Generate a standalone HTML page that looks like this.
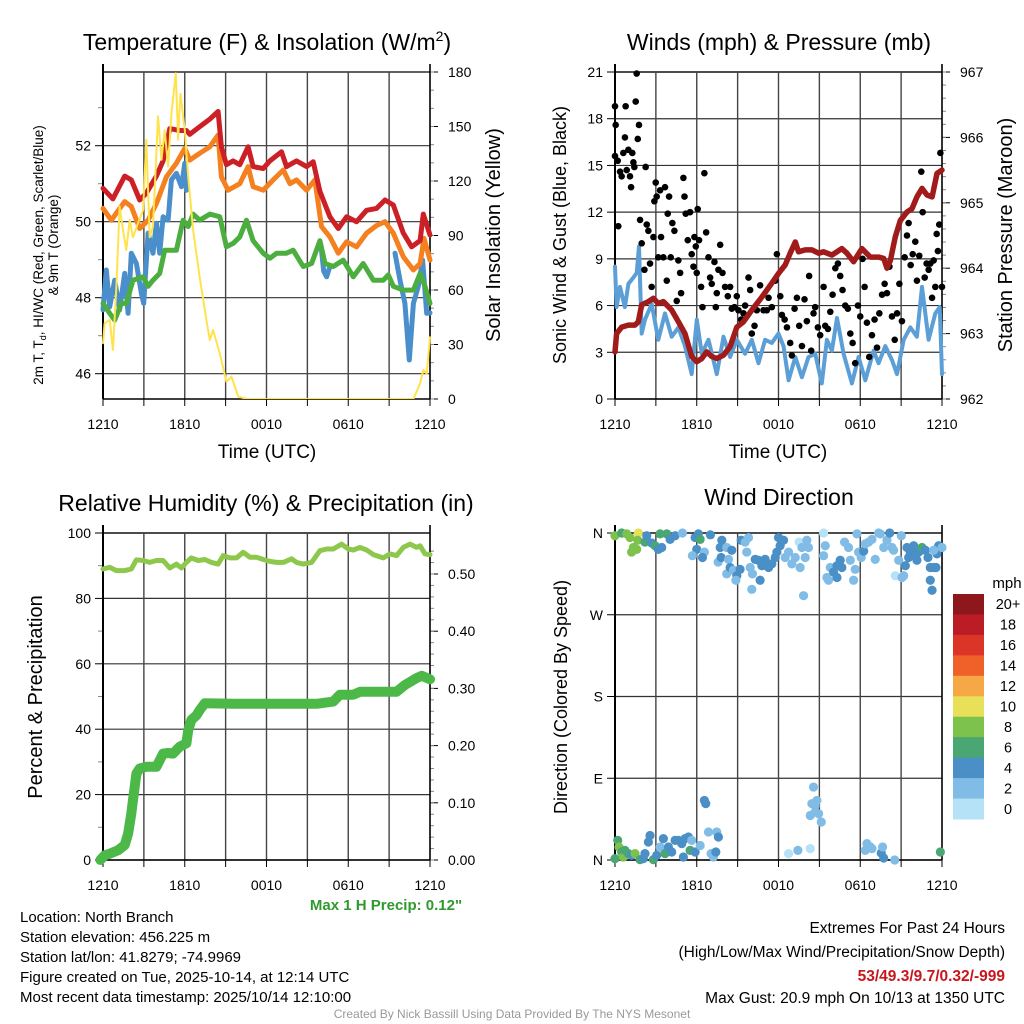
<!DOCTYPE html>
<html><head><meta charset="utf-8"><style>
html,body{margin:0;padding:0;background:#fff;}
svg{display:block;font-family:"Liberation Sans",Arial,sans-serif;}
</style></head><body>
<svg id="fig" width="1024" height="1024" viewBox="0 0 1024 1024" xmlns="http://www.w3.org/2000/svg">
<rect width="1024" height="1024" fill="#fff"/>
<text x="267" y="50" font-size="23" text-anchor="middle">Temperature (F) &amp; Insolation (W/m<tspan font-size="14" dy="-9">2</tspan><tspan dy="9">)</tspan></text>
<text x="779" y="50" font-size="23" text-anchor="middle">Winds (mph) &amp; Pressure (mb)</text>
<text x="266" y="511" font-size="23" text-anchor="middle">Relative Humidity (%) &amp; Precipitation (in)</text>
<text x="779" y="505" font-size="23" text-anchor="middle">Wind Direction</text>
<text x="267" y="458" font-size="19" text-anchor="middle">Time (UTC)</text>
<text x="778" y="458" font-size="19" text-anchor="middle">Time (UTC)</text>
<text transform="translate(43,255) rotate(-90)" font-size="13.5" text-anchor="middle">2m T, T<tspan font-size="9" dy="3">d</tspan><tspan dy="-3">, HI/WC (Red, Green, Scarlet/Blue)</tspan></text>
<text transform="translate(58,245) rotate(-90)" font-size="13.5" text-anchor="middle">&amp; 9m T (Orange)</text>
<text transform="translate(500,235) rotate(-90)" font-size="20" text-anchor="middle">Solar Insolation (Yellow)</text>
<text transform="translate(566,235) rotate(-90)" font-size="18" text-anchor="middle">Sonic Wind &amp; Gust (Blue, Black)</text>
<text transform="translate(1012,235) rotate(-90)" font-size="20" text-anchor="middle">Station Pressure (Maroon)</text>
<text transform="translate(42,697) rotate(-90)" font-size="20" text-anchor="middle">Percent &amp; Precipitation</text>
<text transform="translate(567,697) rotate(-90)" font-size="18" text-anchor="middle">Direction (Colored By Speed)</text>
<text x="386" y="910" font-size="15" font-weight="bold" fill="#2e9a2e" text-anchor="middle">Max 1 H Precip: 0.12"</text>
<g font-size="15">
<text x="20" y="922">Location: North Branch</text>
<text x="20" y="942">Station elevation: 456.225 m</text>
<text x="20" y="962">Station lat/lon: 41.8279; -74.9969</text>
<text x="20" y="982">Figure created on Tue, 2025-10-14, at 12:14 UTC</text>
<text x="20" y="1002">Most recent data timestamp: 2025/10/14 12:10:00</text>
</g>
<g font-size="15.5" text-anchor="end">
<text x="1005" y="933">Extremes For Past 24 Hours</text>
<text x="1005" y="957">(High/Low/Max Wind/Precipitation/Snow Depth)</text>
<text x="1005" y="981" fill="#c8161d" font-weight="bold">53/49.3/9.7/0.32/-999</text>
<text x="1005" y="1003">Max Gust: 20.9 mph On 10/13 at 1350 UTC</text>
</g>
<text x="512" y="1018" font-size="12" fill="#999" text-anchor="middle">Created By Nick Bassill Using Data Provided By The NYS Mesonet</text>
<text x="1007" y="588" font-size="15" text-anchor="middle">mph</text>
<g id="layer"></g>
</svg>
<script>
// ---------- Panel 1 data ----------
const redH=[0,0.73,1.59,2.08,2.69,3.18,3.92,4.41,4.9,5.63,6.12,6.37,7.1,7.84,8.45,8.69,9.06,9.55,10.04,10.65,11.02,11.76,12.25,13.1,13.47,14.2,14.94,15.43,15.92,16.65,17.27,17.88,18.61,19.35,20.08,20.7,21.31,22.04,22.65,23.27,23.51,24];
const redV=[50.88,50.6,51.2,51.1,50.57,50.75,51.2,51.6,52.45,52.4,52.4,52.3,52.5,52.7,52.9,51.97,51.5,51.6,51.5,51.97,51.45,51.4,51.6,51.84,51.45,51.6,51.45,51.58,50.8,50.13,49.82,50.13,50.0,50.3,50.35,50.57,50.44,49.7,49.34,49.5,50.2,49.65];
const orangeH=[0,0.61,1.59,2.08,2.69,3.31,3.92,4.65,5.39,6.0,6.37,7.1,7.84,8.45,8.69,9.18,10.04,10.65,11.02,11.76,12.49,13.23,13.72,14.2,14.94,15.55,16.04,16.65,17.27,17.88,18.61,19.35,20.08,20.7,21.31,22.04,22.78,23.27,23.56,24];
const orangeV=[50.35,50.04,50.53,50.4,49.82,50.04,50.48,51.18,51.54,51.93,51.62,51.8,51.97,52.28,51.18,50.83,51.0,51.45,50.92,50.83,51.1,51.36,51.0,51.1,50.83,51.1,49.87,49.6,49.17,49.47,49.34,49.7,49.9,50.0,49.7,49.08,48.73,48.9,49.56,48.99];
const greenH=[0,0.49,0.86,1.35,1.71,2.2,2.94,3.31,3.67,4.16,4.53,4.9,5.39,5.88,6.25,6.61,7.1,7.84,8.57,9.06,9.55,10.04,10.53,11.02,11.76,12.25,12.74,13.47,13.96,14.69,15.31,15.92,16.29,16.9,17.63,18.37,19.1,19.84,20.57,20.94,21.31,22.04,22.78,23.27,23.63,24];
const greenV=[47.85,47.59,47.41,47.85,47.85,48.46,48.55,48.3,48.46,48.64,49.25,49.25,49.25,50.04,49.87,50.2,50.04,50.2,50.13,49.34,49.43,49.6,50.04,49.5,49.17,49.04,49.17,49.17,49.25,48.82,48.9,49.5,48.9,48.82,48.99,48.55,48.9,48.46,48.46,48.6,48.3,48.2,48.2,48.64,48.3,47.85];
// blue (HI/WC) only visible where it departs from dewpoint; null = gap
const blueH=[0,0.24,0.49,0.86,1.22,1.59,1.84,2.08,2.45,2.82,2.99,3.31,3.67,3.92,4.16,4.41,4.78,5.02,5.39,5.76,6.0,6.12,6.2,16.04,16.2,16.41,16.65,16.8,21.43,21.8,22.16,22.48,22.78,23.14,23.46,23.76,24];
const blueV=[47.68,48.73,47.76,48.46,47.68,48.64,47.59,49.17,48.9,48.11,47.85,49.7,49.17,49.96,49.17,50.13,50.04,51.1,51.27,50.92,51.54,50.83,null,49.25,48.7,48.55,48.82,null,49.17,48.46,47.85,46.36,47.85,48.3,48.99,47.59,47.6];
const solarH=[0,0.12,0.49,0.73,0.98,1.22,1.47,1.71,1.96,2.2,2.57,2.94,3.18,3.43,3.67,4.04,4.29,4.53,4.78,5.02,5.34,5.51,5.68,6.0,6.25,6.61,7.1,7.59,7.84,8.08,8.57,9.06,9.43,9.92,10.53,22.78,23.27,23.51,23.76,24];
const solarV=[30.7,41.7,43.5,27,62,106,93,82,98.6,89,96.8,104,142.7,89,95,155.6,131.7,148,128,157,179.4,142.7,168,148,122.5,93,67,43.5,32.5,38,25,9.5,12.3,1.3,0,0,8.6,16,14,34];
const tempTicks=[46,48,50,52];
const solarTicks=[0,30,60,90,120,150,180];
const timeTickLabels=["1210","1810","0010","0610","1210"];
// ---------- Panel 2 data ----------
const presH=[0,0.12,0.49,0.98,1.47,1.71,1.96,2.45,2.82,3.18,3.55,4.16,4.65,5.14,5.63,6.0,6.37,6.73,7.1,7.47,7.96,8.45,8.94,9.43,10.04,10.78,11.51,12.0,12.49,12.86,13.23,13.47,13.96,14.45,14.94,15.31,15.92,16.65,17.02,17.51,18.12,18.74,19.35,19.72,19.96,20.21,20.57,20.94,21.43,21.8,22.16,22.53,22.9,23.27,23.63,24];
const presV=[962.72,963.0,963.1,963.13,963.13,963.18,963.44,963.49,963.54,963.46,963.49,963.36,963.18,963.0,962.65,962.57,962.62,962.72,962.65,962.62,962.67,962.8,963.1,963.18,963.36,963.56,963.77,963.92,964.05,964.23,964.4,964.25,964.28,964.28,964.23,964.25,964.2,964.3,964.23,964.1,964.3,964.17,964.17,964.15,964.0,964.12,964.48,964.73,964.86,964.91,965.09,965.22,965.12,965.09,965.45,965.5];
const windH=[0,0.12,0.37,0.73,0.98,1.35,1.59,1.76,1.96,2.2,2.69,3.18,3.67,4.16,4.65,5.14,5.63,6.0,6.37,6.86,7.47,7.96,8.45,8.94,9.55,10.04,10.53,11.02,11.51,12.0,12.37,12.74,13.23,13.72,14.2,14.69,15.18,15.55,15.92,16.29,16.78,17.39,17.88,18.37,18.98,19.35,19.84,20.33,20.7,21.19,21.67,22.16,22.53,23.02,23.51,23.83,24];
const windV=[8.5,5.9,7.2,5.9,7.4,7.8,8.1,9.8,4.2,5.1,6.1,3.8,5.5,4.0,4.6,3.4,1.6,5.1,2.9,3.8,1.6,4.0,2.7,3.8,2.9,3.8,2.3,3.8,3.6,4.2,3.4,1.2,2.7,1.4,2.7,2.9,1.0,3.8,3.1,5.2,2.9,1.0,2.7,1.2,3.1,2.3,3.4,2.5,1.6,3.8,4.6,4.0,7.2,3.8,5.5,5.9,1.6];
const gustH=[0,0.05,0,0.2,0.24,0.37,0.49,0.61,0.73,0.78,0.86,0.98,1.1,1.18,1.27,1.35,1.42,1.52,1.59,1.67,1.76,1.84,1.96,2.16,2.25,2.33,2.45,2.57,2.69,2.82,2.89,2.99,3.06,3.18,3.31,3.38,3.55,3.67,3.8,3.87,3.97,4.09,4.21,4.36,4.53,4.65,4.78,4.85,5.02,5.1,5.19,5.34,5.51,5.63,5.76,5.83,5.93,6.0,6.07,6.17,6.32,6.42,6.56,6.69,6.86,6.98,7.1,7.3,7.4,7.47,7.59,7.72,7.89,8.08,8.28,8.45,8.57,8.77,8.94,9.06,9.26,9.43,9.55,9.8,9.92,10.04,10.24,10.41,10.65,10.9,11.14,11.27,11.51,11.76,11.88,12.13,12.25,12.45,12.62,12.86,12.98,13.18,13.35,13.52,13.72,13.91,14.08,14.25,14.4,14.57,14.69,14.89,15.06,15.31,15.43,15.63,15.8,15.97,16.17,16.36,16.53,16.7,16.9,17.09,17.27,17.44,17.63,17.83,18.0,18.17,18.32,18.49,18.66,18.86,19.05,19.23,19.4,19.6,19.79,19.96,20.14,20.33,20.53,20.7,20.87,21.06,21.26,21.43,21.55,21.7,21.85,22.04,22.16,22.33,22.48,22.58,22.73,22.87,23.02,23.14,23.27,23.39,23.51,23.61,23.7,23.8,23.88,24];
const gustV=[18.8,17.6,15.6,15.3,11.1,14.6,14.3,15.8,16.8,18.8,14.7,16.0,14.3,13.6,15.8,15.2,14.9,19.1,20.9,16.7,17.6,11.5,10.0,8.3,14.9,11.2,10.8,8.7,7.2,10.4,12.7,13.9,13.0,9.1,13.4,10.4,9.1,13.6,7.6,11.9,13.0,9.1,11.3,10.8,6.3,8.9,8.1,6.8,14.2,13.0,11.9,10.2,12.0,9.3,8.5,10.4,9.8,8.1,12.2,10.2,7.2,5.9,14.5,10.7,9.1,7.8,7.4,8.8,5.9,6.8,8.3,9.9,8.1,7.2,6.6,7.2,5.8,5.9,6.6,5.7,5.1,5.5,6.0,7.8,7.0,4.2,4.7,5.7,7.3,5.7,5.7,6.5,5.9,7.6,9.3,6.6,5.4,5.1,4.6,3.6,2.8,5.8,6.5,4.7,3.4,6.4,5.0,7.9,3.1,5.5,5.9,4.6,4.1,7.2,4.7,4.5,5.6,6.7,8.4,8.7,7.9,7.0,6.0,5.8,4.2,3.6,2.3,6.0,5.3,9.0,7.2,4.9,2.7,4.1,5.1,3.3,5.5,6.7,7.4,6.8,8.5,5.3,3.8,5.5,7.4,5.0,9.1,10.5,11.3,8.6,9.3,10.1,7.6,9.2,14.6,12.0,7.8,8.7,8.3,8.7,6.5,8.9,7.2,10.6,9.5,11.2,15.8,7.2];
const windTicks=[0,3,6,9,12,15,18,21];
const presTicks=[962,963,964,965,966,967];
// ---------- Panel 3 data ----------
const rhH=[0,0.49,0.98,1.59,2.08,2.45,2.94,3.43,3.92,4.41,4.9,5.39,5.76,6.12,6.49,6.98,7.47,7.96,8.45,8.82,9.31,9.8,10.29,10.78,11.27,11.76,12.25,12.74,13.23,13.84,14.2,14.69,15.31,15.92,16.41,16.9,17.51,18.0,18.37,18.86,19.35,19.84,20.57,21.06,21.55,22.04,22.53,23.02,23.27,23.63,24];
const rhV=[89,89.5,88.5,88.5,89,91.8,91.6,91.0,91.6,91.6,89.3,90.5,89.3,91.0,92.4,91.6,91.9,91.0,90.5,93.1,92.4,92.4,94.1,92.6,92.6,91.9,91.3,91.0,91.0,92.1,91.0,90.5,91.0,94.6,95.1,95.1,96.6,95.1,94.8,95.6,94.8,93.4,92.4,93.6,93.1,95.6,96.6,95.6,96.1,93.6,93.4];
const precipH=[-0.2,0.12,0.49,1.1,1.59,1.84,2.08,2.2,2.33,2.45,2.69,3.18,3.92,4.41,4.78,5.14,5.63,6.12,6.25,6.49,6.86,7.1,7.47,9.55,15.67,16.29,16.9,17.39,18.37,18.86,21.55,22.16,23.02,23.39,24];
const precipV=[0,0.008,0.011,0.017,0.026,0.046,0.081,0.105,0.128,0.151,0.16,0.163,0.163,0.186,0.187,0.186,0.198,0.204,0.227,0.245,0.253,0.262,0.274,0.273,0.273,0.275,0.277,0.289,0.289,0.294,0.294,0.306,0.318,0.322,0.316];
const rhTicks=[0,20,40,60,80,100];
const precipTicks=[0,0.1,0.2,0.3,0.4,0.5];
const precipTickLabels=["0.00","0.10","0.20","0.30","0.40","0.50"];
// ---------- Panel 4 data ----------
const dirH=[0,0.49,0.86,1.1,1.35,1.22,1.59,1.71,1.67,2.2,2.33,2.69,2.94,3.18,3.43,3.31,3.8,4.04,4.41,4.95,5.88,6.12,6.25,6.0,5.68,6.56,6.42,7.0,7.57,7.72,7.84,7.79,8.2,8.33,8.2,8.57,8.45,8.69,8.94,8.87,9.18,9.26,9.55,9.8,9.67,9.92,10.09,10.04,10.29,10.65,10.53,10.78,11.02,11.27,11.51,11.76,11.88,12.0,12.12,12.37,12.49,12.74,12.98,13.23,13.52,13.59,13.72,13.84,13.96,14.08,14.2,15.31,15.31,15.43,15.55,15.67,15.8,16.04,16.29,16.53,16.29,16.65,16.85,17.14,17.27,17.51,17.63,17.76,17.88,18.07,18.25,18.37,18.61,18.86,19.1,19.35,19.47,19.72,19.96,20.16,20.33,20.45,20.57,20.82,21.01,21.06,21.19,21.31,21.43,21.55,21.67,21.92,22.04,22.16,22.29,22.53,22.78,22.97,23.14,23.14,23.27,23.39,23.56,23.63,23.76,24,23.39,
0,0.2,0.29,0.49,0.61,0.73,0.98,1.22,1.47,1.84,2.08,2.2,2.45,2.57,2.82,3.06,3.31,3.55,3.67,3.92,4.16,4.41,4.65,4.9,5.02,5.14,5.39,5.63,5.51,5.88,6.25,6.56,6.66,6.86,7.05,7.22,7.4,7.47,7.59,12.74,13.42,14.33,14.57,14.69,14.82,14.33,14.45,14.69,14.94,15.14,18.37,18.49,18.74,18.86,19.54,19.64,19.72,20.53,23.88];
const dirDeg=[357,360,359,355,344,339,342,360,352,350,357,349,346,342,344,359,359,353,357,360,355,359,353,342,335,339,333,358,328,344,352,333,344,331,315,341,322,319,313,308,320,352,350,355,339,322,315,298,331,308,330,324,331,322,326,333,339,355,346,352,333,339,326,333,350,322,344,291,333,352,344,360,335,346,311,308,322,317,324,330,311,322,350,344,330,308,320,359,339,333,340,348,350,353,331,360,359,344,352,360,344,341,313,330,357,311,313,324,344,333,339,346,335,330,339,344,341,333,322,308,297,322,322,337,346,344,341,
1.5,21.6,14.3,8.8,3.3,10.6,7,5.1,7,0.4,1.5,7,19.8,27,0.4,5.1,14.3,23.5,7,14.3,8.8,21.6,21.6,18,3.3,23.5,25.3,21.6,10.6,8.8,16,65.6,62,30.8,7,3.3,8.8,30.8,25.3,7,10.6,12.5,80.3,60,65.6,49,62,52.8,51,41.8,10.6,18,14.3,12.5,7.7,14.3,2.2,0,8.8];
const dirSpeed=[8,7,8,8,8,8,8,10,8,6,5,4,6,4,4,6,7,4,4,3,4,4,6,4,3,3,4,4,3,4,5,4,3,3,3,5,5,3,5,3,5,5,3,3,3,3,3,3,5,5,5,5,5,5,5,5,5,5,5,5,3,3,3,3,1,3,3,3,3,3,3,1,3,3,3,3,3,5,5,5,5,5,3,3,3,3,3,3,3,3,5,3,3,3,3,3,3,3,3,5,3,3,1,3,3,3,3,5,5,5,5,5,5,5,5,7,5,5,5,5,5,5,5,5,5,3,3,
7,7,8,7,8,7,7,5,8,7,5,5,5,5,7,5,3,5,7,5,5,5,5,5,5,5,5,3,7,5,3,5,5,3,3,3,5,3,5,1,3,1,3,3,3,3,3,3,3,3,3,3,3,3,5,3,5,3,7];
const dirTicks=[0,90,180,270,360];
const dirTickLabels=["N","E","S","W","N"];
const cbarLabels=["20+","18","16","14","12","10","8","6","4","2","0"];
const cbarColors=["#8e171b","#bb1c25","#db3528","#ef6129","#f6a847","#e8e059","#7cc24c","#4aa672","#4a8fc6","#80bce6","#b6e2f8"];

// ---------- helpers ----------
const NS="http://www.w3.org/2000/svg";
const layer=document.getElementById('layer');
function mk(tag,attrs,parent){const e=document.createElementNS(NS,tag);for(const k in attrs)e.setAttribute(k,attrs[k]);(parent||layer).appendChild(e);return e;}
function lin(d0,d1,r0,r1){return v=>r0+(v-d0)/(d1-d0)*(r1-r0);}
function linePath(hs,vs,xs,ys){let d="";let pen=false;const n=Math.min(hs.length,vs.length);
  for(let i=0;i<n;i++){if(vs[i]===null){pen=false;continue;}
    d+=(pen?"L":"M")+xs(hs[i]).toFixed(1)+","+ys(vs[i]).toFixed(1);pen=true;}
  return d;}
function drawSeries(hs,vs,xs,ys,color,w,name,clip){
  const p=mk('path',{d:linePath(hs,vs,xs,ys),fill:'none',stroke:color,'stroke-width':w,'stroke-linejoin':'round','stroke-linecap':'round','clip-path':clip?'url(#'+clip+')':''});
  
  
  return p;
}
const defs=mk('defs',{});
function clipFor(id,L,T,R,B){const c=mk('clipPath',{id:id},defs);mk('rect',{x:L-6,y:T,width:R-L+12,height:B-T},c);}

function frame(pre,L,T,R,B,xs,leftVals,leftLabels,ysL,rightVals,rightLabels,ysR,leftMinor,rightMinor){
  const g=mk('g',{});
  
  
  leftVals.forEach(v=>{const y=ysL(v);mk('line',{x1:L,x2:R,y1:y,y2:y,stroke:'#333','stroke-width':1.2},g);});
  mk('line',{x1:L,x2:R,y1:T,y2:T,stroke:'#000','stroke-width':1.3},g);
  for(let h=3;h<24;h+=3){const x=xs(h);mk('line',{x1:x,x2:x,y1:T,y2:B,stroke:'#444','stroke-width':1.4},g);}
  leftVals.forEach((v,i)=>{const y=ysL(v);mk('line',{x1:L-8,x2:L,y1:y,y2:y,stroke:'#000','stroke-width':1},g);
    const t=mk('text',{x:L-12,y:y+5,'font-size':14,'text-anchor':'end'},g);t.textContent=leftLabels[i];
    
    });
  (leftMinor||[]).forEach(v=>{const y=ysL(v);mk('line',{x1:L-5,x2:L,y1:y,y2:y,stroke:'#888','stroke-width':1},g);});
  if(rightVals){
    rightVals.forEach((v,i)=>{const y=ysR(v);mk('line',{x1:R,x2:R+8,y1:y,y2:y,stroke:'#000','stroke-width':1},g);
      const t=mk('text',{x:R+18,y:y+5,'font-size':14},g);t.textContent=rightLabels[i];
      
      });
    (rightMinor||[]).forEach(v=>{const y=ysR(v);mk('line',{x1:R,x2:R+4,y1:y,y2:y,stroke:'#888','stroke-width':1},g);});
  }
  for(let h=0;h<=24;h+=3){const x=xs(h);mk('line',{x1:x,x2:x,y1:B,y2:B+7,stroke:'#000','stroke-width':1},g);}
  timeTickLabels.forEach((s,i)=>{const t=mk('text',{x:xs(i*6),y:B+30,'font-size':14,'text-anchor':'middle'},g);t.textContent=s;
    
    });
  mk('line',{x1:L,x2:L,y1:T-8,y2:B,stroke:'#000','stroke-width':2},g);
  mk('line',{x1:R,x2:R,y1:T-8,y2:B,stroke:'#000','stroke-width':1.6},g);
  mk('line',{x1:L,x2:R,y1:B,y2:B,stroke:'#000','stroke-width':1.6},g);
  return g;
}
function range(a,b,s){const r=[];for(let v=a;v<=b+1e-9;v+=s)r.push(+v.toFixed(4));return r;}

// ---------- Panel 1 ----------
(function(){
  const L=103,R=430,T=72,B=399;
  const xs=lin(0,24,L,R), yT=lin(52,46,145.7,373.7), yS=lin(0,180,B,T);
  frame('temp',L,T,R,B,xs,tempTicks,tempTicks.map(String),yT,solarTicks,solarTicks.map(String),yS,[47,49,51,53],range(0,180,10));
  clipFor('c1',L,T,R,B);
  drawSeries(blueH,blueV,xs,yT,'#4a8fcb',5,'wind-chill-line','c1');
  drawSeries(greenH,greenV,xs,yT,'#4cae3f',5,'dewpoint-line','c1');
  drawSeries(orangeH,orangeV,xs,yT,'#f4801f',5,'temp-9m-line','c1');
  drawSeries(redH,redV,xs,yT,'#cc1f26',5,'temp-2m-line','c1');
  drawSeries(solarH,solarV,xs,yS,'#ffe34d',2,'solar-insolation-line','c1');
})();
// ---------- Panel 2 ----------
(function(){
  const L=615,R=942,T=72,B=399;
  const xs=lin(0,24,L,R), yW=lin(0,21,B,T), yP=lin(962,967,B,T);
  frame('wind',L,T,R,B,xs,windTicks,windTicks.map(String),yW,presTicks,presTicks.map(String),yP,[],range(962,967,0.2));
  clipFor('c2',L,T,R,B);
  drawSeries(windH,windV,xs,yW,'#5b9fd6',4,'sonic-wind-line','c2');
  const n=Math.min(gustH.length,gustV.length);
  for(let i=0;i<n;i++){
    const c=mk('circle',{cx:xs(gustH[i]),cy:yW(gustV[i]),r:3.3,fill:'#000'});
    
    
  }
  drawSeries(presH,presV,xs,yP,'#a11b1b',5.5,'pressure-line','c2');
})();
// ---------- Panel 3 ----------
(function(){
  const L=103,R=430,T=533,B=860;
  const xs=lin(0,24,L,R), yR=lin(0,100,B,T), yP=lin(0,0.5,B,574);
  frame('rh',L,T,R,B,xs,rhTicks,rhTicks.map(String),yR,precipTicks,precipTickLabels,yP,[10,30,50,70,90],range(0,0.54,0.02));
  drawSeries(rhH,rhV,xs,yR,'#8dc84c',5,'relative-humidity-line');
  drawSeries(precipH,precipV,xs,yP,'#4cb848',10,'precipitation-line');
})();
// ---------- Panel 4 ----------
(function(){
  const L=615,R=942,T=533,B=860;
  const xs=lin(0,24,L,R), yD=lin(0,360,B,T);
  frame('dir',L,T,R,B,xs,dirTicks,dirTickLabels,yD,null,null,null,[],[]);
  function colorFor(s){const bins=[0,2,4,6,8,10,12,14,16,18,20];let idx=0;for(let i=0;i<bins.length;i++){if(s>=bins[i])idx=i;}return cbarColors[10-idx];}
  const n=Math.min(dirH.length,dirDeg.length,dirSpeed.length);
  for(let i=0;i<n;i++){
    const c=mk('circle',{cx:xs(dirH[i]),cy:yD(dirDeg[i]),r:4.6,fill:colorFor(dirSpeed[i])});
    
    
  }
  const cx=953,cw=31,ct=594,ch=225/11;
  cbarColors.forEach((col,i)=>{
    const r=mk('rect',{x:cx,y:ct+i*ch,width:cw,height:ch+0.5,fill:col});
    
    
    const t=mk('text',{x:1008,y:ct+i*ch+ch/2+5,'font-size':14.5,'text-anchor':'middle'});
    t.textContent=cbarLabels[i];
    
    
  });
})();
</script>
</body></html>
